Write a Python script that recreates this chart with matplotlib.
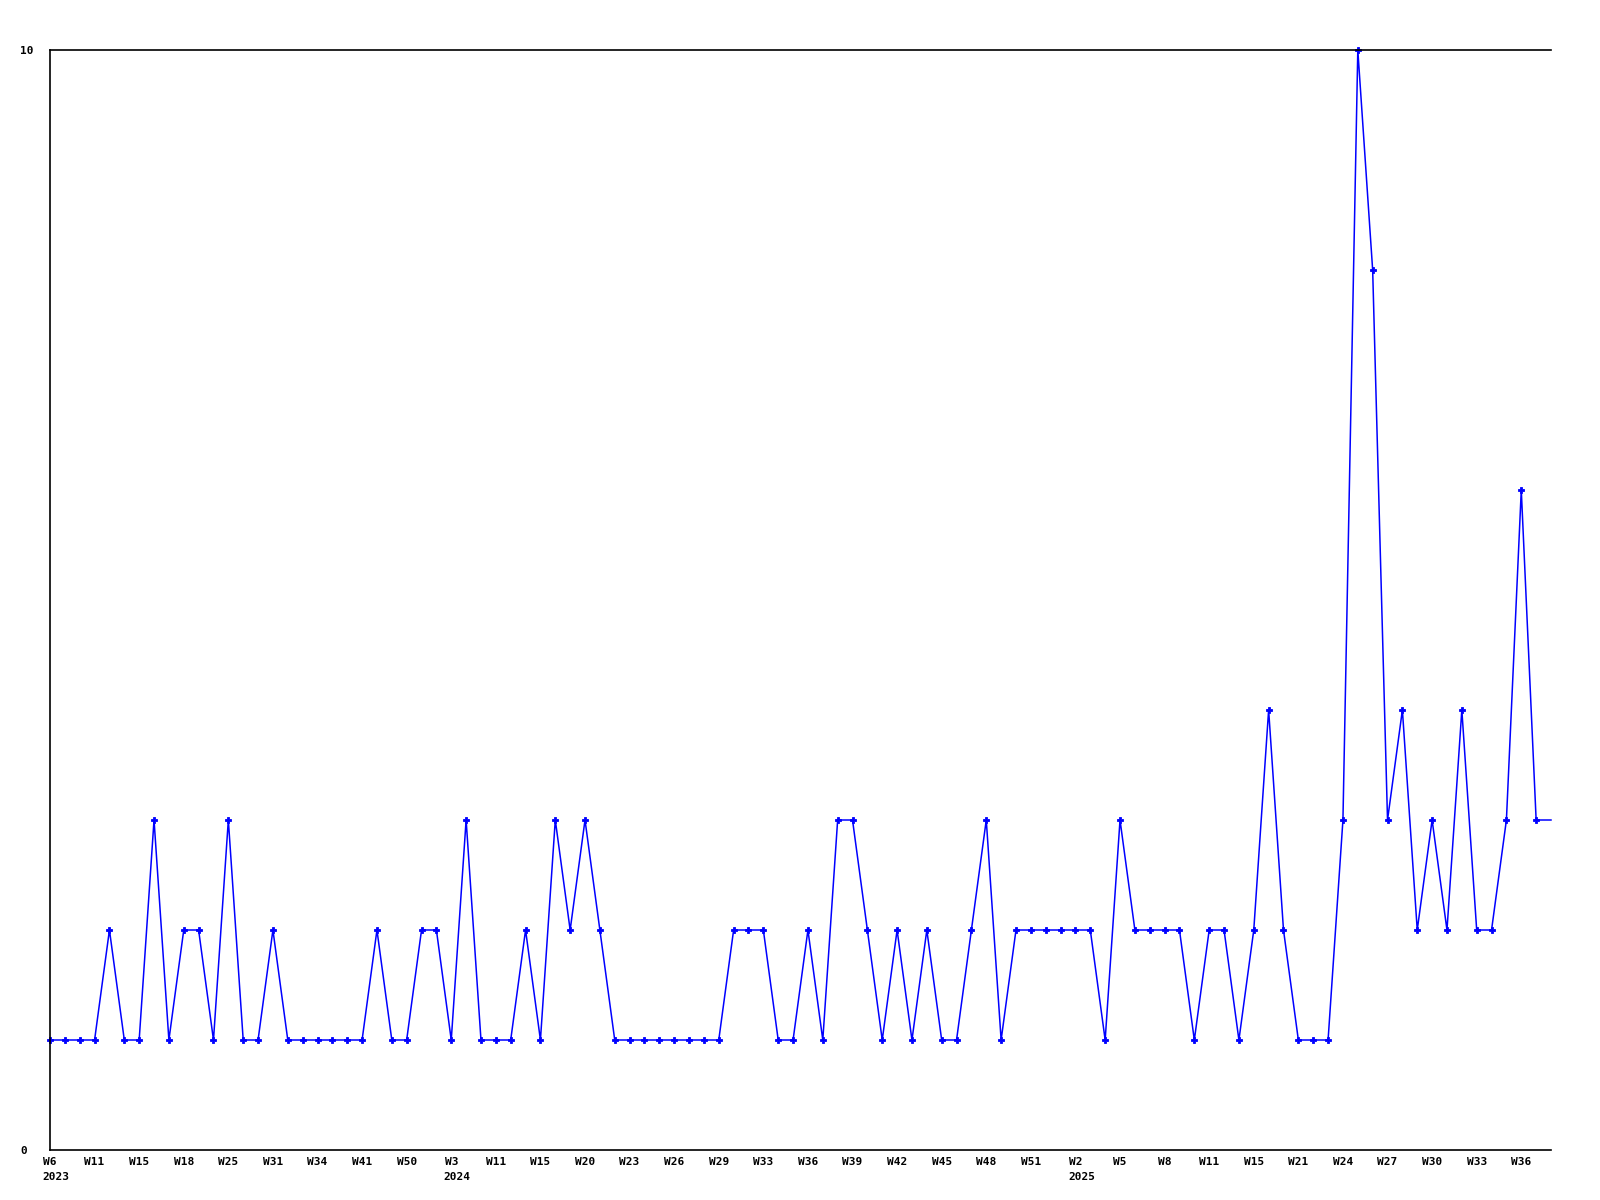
import matplotlib
matplotlib.use("Agg")
import matplotlib.pyplot as plt

# weekly counts, one per week
# (the last value is where the line runs out to the right edge)
values = [1, 1, 1, 1, 2, 1, 1, 3, 1, 2, 2, 1, 3, 1, 1, 2, 1, 1, 1, 1,
          1, 1, 2, 1, 1, 2, 2, 1, 3, 1, 1, 1, 2, 1, 3, 2, 3, 2, 1, 1,
          1, 1, 1, 1, 1, 1, 2, 2, 2, 1, 1, 2, 1, 3, 3, 2, 1, 2, 1, 2,
          1, 1, 2, 3, 1, 2, 2, 2, 2, 2, 2, 1, 3, 2, 2, 2, 2, 1, 2, 2,
          1, 2, 4, 2, 1, 1, 1, 3, 10, 8, 3, 4, 2, 3, 2, 4, 2, 2, 3, 6,
          3, 3]

week_labels = ["W6", "W11", "W15", "W18", "W25", "W31", "W34", "W41", "W50",
               "W3", "W11", "W15", "W20", "W23", "W26", "W29", "W33", "W36",
               "W39", "W42", "W45", "W48", "W51", "W2", "W5", "W8", "W11",
               "W15", "W21", "W24", "W27", "W30", "W33", "W36"]
years = {0: "2023", 9: "2024", 23: "2025"}  # label index -> year

font = {"family": "DejaVu Sans Mono", "weight": "bold", "size": 8}

fig = plt.figure(figsize=(16, 12), dpi=100)
ax = fig.add_axes([50 / 1600, 50 / 1200, 1501 / 1600, 1100 / 1200])

x = list(range(len(values)))
ax.plot(x, values, color="#0000FF", linewidth=1.1, marker="P", markersize=5,
        markeredgewidth=0.6, markevery=list(range(len(values) - 1)), clip_on=False)

ax.set_xlim(0, len(values) - 1)
ax.set_ylim(0, 10)

ax.spines["right"].set_visible(False)
for s in ("left", "top", "bottom"):
    ax.spines[s].set_linewidth(1.2)

ax.set_yticks([0, 10])
ax.set_yticklabels(["0", "10"], fontdict=font, ha="left")
ax.tick_params(axis="y", length=0, pad=21.6)

tick_pos = [3 * i for i in range(len(week_labels))]
ax.set_xticks(tick_pos)
ax.set_xticklabels(week_labels, fontdict=font)
ax.tick_params(axis="x", length=0, pad=5)

for i, yr in years.items():
    ax.annotate(yr, xy=(tick_pos[i], 0), xytext=(-7.5, -22),
                textcoords="offset pixels", ha="left", va="top",
                annotation_clip=False, **font)

fig.savefig("out.png", dpi=100)
